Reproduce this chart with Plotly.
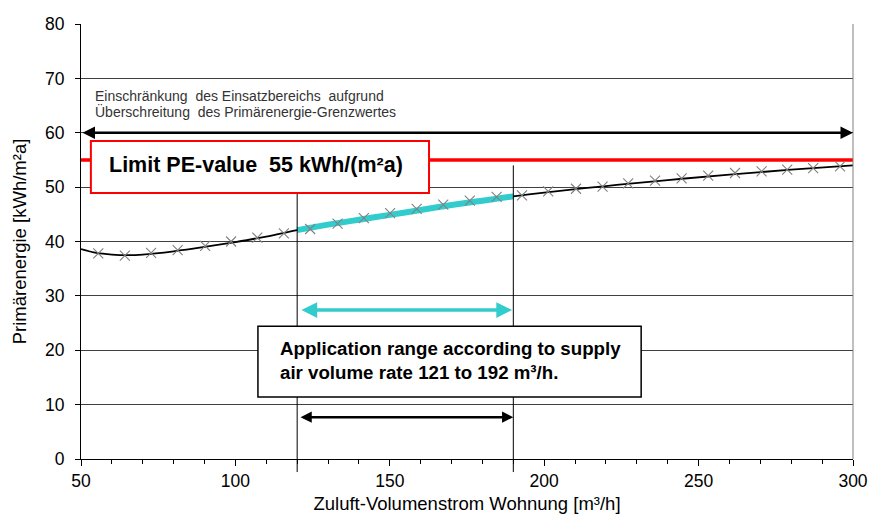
import plotly.graph_objects as go

# ---- data ----
curve_x = [50, 55, 60, 65, 70, 80, 90, 100, 110, 120, 130, 140, 150, 160, 170, 180, 190, 200, 220, 240, 260, 280, 300]
curve_y = [38.6, 37.9, 37.6, 37.5, 37.6, 38.2, 39.0, 39.9, 40.9, 42.1, 43.1, 44.0, 44.9, 45.8, 46.7, 47.5, 48.3, 49.0, 50.2, 51.3, 52.3, 53.2, 54.0]

marker_x = [55.6, 64.2, 72.7, 81.3, 90.2, 98.6, 107.1, 115.7, 124.2, 133.1, 141.6, 150.1, 158.7, 167.3,
            175.9, 184.6, 192.8, 201.3, 210.3, 218.9, 227.2, 235.9, 244.5, 253.1, 261.8, 270.4, 278.7, 287.1, 295.8]
marker_y = [37.8, 37.4, 37.9, 38.4, 39.2, 40.0, 40.7, 41.5, 42.3, 43.3, 44.3, 45.2, 46.0, 46.8,
            47.5, 48.2, 48.5, 49.2, 49.7, 50.1, 50.7, 51.2, 51.6, 52.1, 52.6, 52.9, 53.2, 53.5, 53.8]

range_lo, range_hi = 120, 190      # application range (vertical lines)
limit_pe = 55                       # limit PE value
restriction_y = 60                  # restriction arrow level
x_min, x_max = 50, 300

x_ticks = [50, 100, 150, 200, 250, 300]
y_ticks = [0, 10, 20, 30, 40, 50, 60, 70, 80]

FONT = "Liberation Sans, Arial, sans-serif"

fig = go.Figure()

# red limit line
fig.add_trace(go.Scatter(x=[x_min, x_max], y=[limit_pe, limit_pe], mode="lines",
                         line=dict(color="#FF0000", width=3.5), hoverinfo="skip"))
# black curve
fig.add_trace(go.Scatter(x=curve_x, y=curve_y, mode="lines",
                         line=dict(color="black", width=1.8, shape="spline"), hoverinfo="skip"))
# cyan highlighted segment
seg = [(x, y) for x, y in zip(curve_x, curve_y) if range_lo <= x <= range_hi]
fig.add_trace(go.Scatter(x=[p[0] for p in seg], y=[p[1] for p in seg], mode="lines",
                         line=dict(color="#33CCCC", width=6, shape="spline"), hoverinfo="skip"))
# markers
fig.add_trace(go.Scatter(x=marker_x, y=marker_y, mode="markers",
                         marker=dict(symbol="x-thin", size=10, line=dict(color="#808080", width=1.1)),
                         hoverinfo="skip"))

shapes = []
# right border
shapes.append(dict(type="line", xref="paper", yref="paper", x0=1, x1=1, y0=0, y1=1,
                   line=dict(color="#808080", width=1)))
# vertical lines at range bounds
for xv in (range_lo, range_hi):
    shapes.append(dict(type="line", xref="x", yref="paper", x0=xv, x1=xv, y0=-0.03, y1=54 / 80,
                       line=dict(color="black", width=1), layer="above"))
# red label box
shapes.append(dict(type="rect", xref="x", yref="y", x0=53.2, x1=162.7, y0=48.9, y1=58.5,
                   line=dict(color="#FF0000", width=2), fillcolor="white", layer="above"))
# application range box
shapes.append(dict(type="rect", xref="x", yref="y", x0=107.3, x1=231.4, y0=11.4, y1=24.4,
                   line=dict(color="black", width=1.5), fillcolor="white", layer="above"))

annotations = []
# restriction arrow (both ends)
annotations.append(dict(x=x_max, y=restriction_y, ax=x_min, ay=restriction_y, xref="x", yref="y",
                        axref="x", ayref="y", text="", showarrow=True, arrowhead=2, startarrowhead=2,
                        arrowside="end+start", arrowwidth=2.5, arrowsize=1, arrowcolor="black"))
# cyan arrow
annotations.append(dict(x=189.6, y=27.4, ax=120.9, ay=27.4, xref="x", yref="y",
                        axref="x", ayref="y", text="", showarrow=True, arrowhead=2, startarrowhead=2,
                        arrowside="end+start", arrowwidth=3.5, arrowsize=0.9, arrowcolor="#33CCCC"))
# black small range arrow
annotations.append(dict(x=range_hi, y=7.7, ax=range_lo + 0.6, ay=7.7, xref="x", yref="y",
                        axref="x", ayref="y", text="", showarrow=True, arrowhead=2, startarrowhead=2,
                        arrowside="end+start", arrowwidth=2.5, arrowsize=0.9, arrowcolor="black"))
# restriction text
annotations.append(dict(x=53.9, y=66.8, xref="x", yref="y", xanchor="left", yanchor="middle",
                        text="Einschränkung\u00a0 des Einsatzbereichs\u00a0 aufgrund", showarrow=False,
                        font=dict(family=FONT, size=14, color="#333333")))
annotations.append(dict(x=53.9, y=64.0, xref="x", yref="y", xanchor="left", yanchor="middle",
                        text="Überschreitung\u00a0 des Primärenergie-Grenzwertes", showarrow=False,
                        font=dict(family=FONT, size=14, color="#333333")))
# limit label
annotations.append(dict(x=106.7, y=54.1, xref="x", yref="y", xanchor="center", yanchor="middle",
                        text="<b>Limit PE-value\u00a0 55 kWh/(m²a)</b>", showarrow=False,
                        font=dict(family=FONT, size=21.5, color="black")))
# application text
annotations.append(dict(x=113.8, y=20.4, xref="x", yref="y", xanchor="left", yanchor="middle",
                        text="<b>Application range according to supply</b>", showarrow=False,
                        font=dict(family=FONT, size=18.7, color="black")))
annotations.append(dict(x=113.8, y=16.0, xref="x", yref="y", xanchor="left", yanchor="middle",
                        text="<b>air volume rate 121 to 192 m³/h.</b>", showarrow=False,
                        font=dict(family=FONT, size=18.7, color="black")))

fig.update_layout(
    width=871, height=514,
    margin=dict(l=81, r=18, t=24, b=55),
    paper_bgcolor="white", plot_bgcolor="white",
    showlegend=False,
    font=dict(family=FONT, size=17, color="black"),
    shapes=shapes, annotations=annotations,
    xaxis=dict(range=[x_min, x_max], tickvals=x_ticks, showgrid=False, zeroline=False,
               showline=True, linecolor="black", linewidth=1, automargin=False,
               ticks="outside", ticklen=6, tickcolor="black",
               minor=dict(dtick=10, ticks="outside", ticklen=4, tickcolor="black"),
               tickfont=dict(family=FONT, size=17.5),
               title=dict(text="Zuluft-Volumenstrom Wohnung [m³/h]", font=dict(family=FONT, size=18.5), standoff=9)),
    yaxis=dict(range=[0, 80], tickvals=y_ticks, showgrid=True, gridcolor="#404040", gridwidth=1,
               zeroline=False, showline=True, linecolor="black", linewidth=1, automargin=False,
               ticks="outside", ticklen=5, tickcolor="black", ticklabelstandoff=7,
               tickfont=dict(family=FONT, size=17.5),
               title=dict(text="Primärenergie [kWh/m²a]", font=dict(family=FONT, size=18.5), standoff=13)),
)

# remove the default 8px page margin so the figure fills the 871x514 window exactly
fig.write_html("out.html", config={"displayModeBar": False, "staticPlot": True},
               post_script="document.body.style.margin='0';document.body.style.overflow='hidden';")
